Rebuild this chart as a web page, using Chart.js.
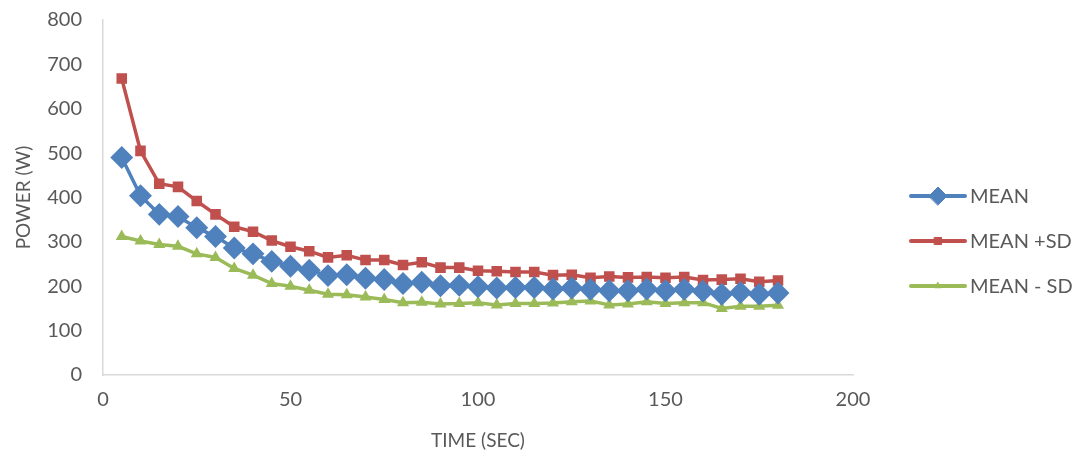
<!DOCTYPE html>
<html>
<head>
<meta charset="utf-8">
<script src="https://cdn.jsdelivr.net/npm/chart.js@4.4.1/dist/chart.umd.min.js"></script>
<style>
  html, body { margin: 0; padding: 0; background: #fff; }
  #wrap { width: 1081px; height: 457px; }
</style>
</head>
<body>
<div id="wrap"><canvas id="powerChart"></canvas></div>
<script>
// time in seconds
const times = [5, 10, 15, 20, 25, 30, 35, 40, 45, 50, 55, 60, 65, 70, 75, 80, 85, 90,
    95, 100, 105, 110, 115, 120, 125, 130, 135, 140, 145, 150, 155, 160, 165, 170, 175, 180];

const meanPower = [490, 404, 362, 357, 332, 312, 286, 273, 256, 245, 236, 224, 226, 218, 215, 206, 209, 201,
    202, 199, 196, 197, 197, 194, 196, 193, 190, 190, 194, 190, 193, 189, 182, 186, 182, 185];

const meanPlusSd = [668, 505, 431, 424, 392, 362, 334, 323, 303, 289, 279, 265, 270, 259, 259, 248, 254, 242,
    242, 235, 234, 232, 232, 225, 226, 219, 222, 220, 221, 219, 221, 214, 215, 217, 210, 213];

const meanMinusSd = [312, 302, 294, 290, 273, 265, 240, 225, 206, 200, 191, 182, 181, 176, 170, 163, 164, 160,
    161, 163, 158, 161, 161, 162, 165, 167, 158, 160, 165, 161, 163, 163, 150, 155, 155, 157];

const xTicks = [0, 50, 100, 150, 200];
const yTicks = [0, 100, 200, 300, 400, 500, 600, 700, 800];

const textColor = '#595959';
const fontFamily = 'Lato, "Open Sans", sans-serif';

function toPoints(values) {
    return values.map((v, i) => ({ x: times[i], y: v }));
}

// legend on the right: line sample with marker, like the spreadsheet one
const sideLegend = {
    id: 'sideLegend',
    afterDraw(chart) {
        const ctx = chart.ctx;
        const rows = [196, 241, 286];
        ctx.save();
        chart.data.datasets.forEach((ds, i) => {
            const y = rows[i];
            ctx.strokeStyle = ds.borderColor;
            ctx.lineWidth = 4;
            ctx.lineCap = 'round';
            ctx.beginPath();
            ctx.moveTo(911, y);
            ctx.lineTo(965, y);
            ctx.stroke();
            ctx.fillStyle = ds.borderColor;
            ctx.strokeStyle = ds.borderColor;
            ctx.lineWidth = 1;
            Chart.helpers.drawPoint(ctx, { pointStyle: ds.pointStyle, radius: ds.pointRadius, borderWidth: 1 }, 938, y);
            ctx.fillStyle = textColor;
            ctx.font = '20px ' + fontFamily;
            ctx.textBaseline = 'middle';
            ctx.textAlign = 'left';
            ctx.fillText(ds.label, 970, y + 1);
        });
        ctx.restore();
    }
};

new Chart(document.getElementById('powerChart'), {
    type: 'line',
    data: {
        datasets: [
            {
                label: 'MEAN',
                data: toPoints(meanPower),
                borderColor: '#4F81BD',
                backgroundColor: '#4F81BD',
                borderWidth: 3.5,
                pointStyle: 'rectRot',
                pointRadius: 9,
                tension: 0
            },
            {
                label: 'MEAN +SD',
                data: toPoints(meanPlusSd),
                borderColor: '#C0504D',
                backgroundColor: '#C0504D',
                borderWidth: 3.5,
                pointStyle: 'rect',
                pointRadius: 5,
                tension: 0
            },
            {
                label: 'MEAN - SD',
                data: toPoints(meanMinusSd),
                borderColor: '#9BBB59',
                backgroundColor: '#9BBB59',
                borderWidth: 3.5,
                pointStyle: 'triangle',
                pointRadius: 3.5,
                tension: 0
            }
        ]
    },
    options: {
        responsive: true,
        maintainAspectRatio: false,
        animation: false,
        layout: { padding: { top: 20, right: 228, bottom: 0, left: 0 } },
        plugins: {
            legend: { display: false },
            tooltip: { enabled: false }
        },
        scales: {
            x: {
                type: 'linear',
                min: 0,
                max: 200,
                afterBuildTicks: s => { s.ticks = xTicks.map(v => ({ value: v })); },
                afterFit: s => { s.height = 82; },
                grid: { display: false, drawTicks: false },
                border: { color: '#d9d9d9', width: 1.5 },
                ticks: { color: textColor, font: { family: fontFamily, size: 20 }, padding: 13, maxRotation: 0 },
                title: {
                    display: true,
                    text: 'TIME (SEC)',
                    color: textColor,
                    font: { family: fontFamily, size: 19 },
                    padding: { top: 0, bottom: 5 }
                }
            },
            y: {
                min: 0,
                max: 800,
                afterBuildTicks: s => { s.ticks = yTicks.map(v => ({ value: v })); },
                afterFit: s => { s.width = 103; s.paddingTop = 0; s.paddingBottom = 0; },
                grid: { display: false, drawTicks: false },
                border: { color: '#d9d9d9', width: 1.5 },
                ticks: { color: textColor, font: { family: fontFamily, size: 20 }, padding: 21 },
                title: {
                    display: true,
                    text: 'POWER (W)',
                    color: textColor,
                    font: { family: fontFamily, size: 19 },
                    padding: { top: 12, bottom: 0 }
                }
            }
        }
    },
    plugins: [sideLegend]
});
</script>
</body>
</html>
